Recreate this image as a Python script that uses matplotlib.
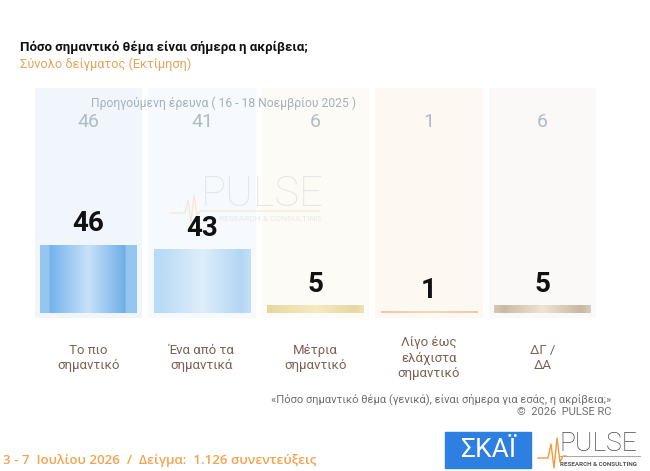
import numpy as np
import matplotlib
matplotlib.use("Agg")
import matplotlib.pyplot as plt
from matplotlib.colors import to_rgb
from matplotlib.patches import Rectangle
from matplotlib.lines import Line2D

plt.rcParams['font.family'] = ['Roboto', 'DejaVu Sans']

# data
categories = ['Το πιο\nσημαντικό', 'Ένα από τα\nσημαντικά', 'Μέτρια\nσημαντικό',
              'Λίγο έως\nελάχιστα\nσημαντικό', 'ΔΓ /\nΔΑ']
current = [46, 43, 5, 1, 5]
previous = [46, 41, 6, 1, 6]

col_bg = ['#F1F6FD', '#F6F9FD', '#FDFBF6', '#FDF8F2', '#FAF9F7']
bar_stops = [
    [(0, '#95C6F0'), (0.09, '#95C6F0'), (0.1, '#74B3EA'), (0.5, '#C8E1F9'), (0.88, '#6EAFE8'), (0.89, '#95C6F0'), (1, '#95C6F0')],
    [(0, '#B9DAF6'), (0.1, '#BCDCF6'), (0.5, '#DEEEFB'), (0.9, '#B3D6F4'), (1, '#C4E0F7')],
    [(0, '#E6D6A2'), (0.1, '#EADBA6'), (0.5, '#F6EAC0'), (0.9, '#E6D7A4'), (1, '#EEE2B8')],
    [(0, '#F1C8A4'), (0.5, '#F6D8BC'), (1, '#F1C8A4')],
    [(0, '#D6C9B6'), (0.1, '#C9BAA3'), (0.5, '#EFE4D2'), (0.9, '#C7B8A1'), (1, '#D8CCBA')],
]

fig = plt.figure(figsize=(6.5, 4.71), dpi=100)
ax = fig.add_axes([31.75 / 650, 1 - 318 / 471, 567.5 / 650, 230 / 471])
k = 1.478  # px per unit
ylo, yhi = -5 / k, 225 / k
x = np.arange(len(categories))

# background columns
ax.bar(x, yhi - ylo, bottom=ylo, width=0.943, color=col_bg, zorder=0)

# watermark
fig.text(262 / 650, 1 - 195 / 471, 'PULSE', fontsize=30, color='#E6E6E6',
         fontweight='light', ha='center', va='center', zorder=1)
fig.text(270 / 650, 1 - 219 / 471, 'RESEARCH & CONSULTING', fontsize=6,
         color='#E8E8E8', ha='center', va='center', zorder=1)
wx = np.array([170, 185, 188, 191, 194, 197, 200, 320]) / 650
wy = 1 - np.array([213, 213, 200, 222, 195, 215, 211, 211]) / 471
fig.add_artist(Line2D(wx, wy, color='#F5E6CF', lw=0.8, zorder=1))

# bars with horizontal gradient
w = 0.846
bars = ax.bar(x, current, width=w, color='none', zorder=2)
n = 200
pos = np.linspace(0, 1, n)
for b, stops in zip(bars, bar_stops):
    sp = [s[0] for s in stops]
    rgb = np.array([to_rgb(s[1]) for s in stops])
    img = np.stack([np.interp(pos, sp, rgb[:, c]) for c in range(3)], axis=-1)[None, :, :]
    x0 = b.get_x()
    ax.imshow(img, extent=(x0, x0 + b.get_width(), 0, b.get_height()),
              aspect='auto', zorder=2, interpolation='bilinear')

for xi, v in zip(x, current):
    ax.text(xi, v + 14.5, str(v), ha='center', va='center', fontsize=20,
            fontweight='bold', color='#111111', zorder=4)

for xi, v in zip(x, previous):
    ax.text(xi, 129.2, str(v), ha='center', va='center', fontsize=14,
            color='#AEBCC8', zorder=3)

tr = ax.get_xaxis_transform()
for xi, c in zip(x, categories):
    ax.text(xi, (318 - 358) / 230, c, transform=tr, ha='center', va='center',
            fontsize=9.5, color='#7D6254', linespacing=1.2)

ax.set_xlim(-0.5, 4.5)
ax.set_ylim(ylo, yhi)
ax.axis('off')

fig.text(224 / 650, 1 - 103 / 471, 'Προηγούμενη έρευνα ( 16 - 18 Νοεμβρίου 2025 )',
         ha='center', va='center', fontsize=8.7, color='#A3B1BE')

# titles
fig.text(20 / 650, 1 - 47 / 471, 'Πόσο σημαντικό θέμα είναι σήμερα η ακρίβεια;',
         ha='left', va='center', fontsize=9.5, fontweight='bold', color='#111111')
fig.text(20 / 650, 1 - 64 / 471, 'Σύνολο δείγματος (Εκτίμηση)',
         ha='left', va='center', fontsize=9.2, color='#E8A45A')

# footnotes
fig.text(611 / 650, 1 - 399 / 471,
         '«Πόσο σημαντικό θέμα (γενικά), είναι σήμερα για εσάς, η ακρίβεια;»',
         ha='right', va='center', fontsize=8, color='#6E6E6E')
fig.text(611 / 650, 1 - 412 / 471, '©  2026  PULSE RC',
         ha='right', va='center', fontsize=8, color='#6E6E6E')

fig.text(3 / 650, 1 - 460 / 471, '3 - 7  Ιουλίου 2026  /  Δείγμα:  1.126 συνεντεύξεις',
         ha='left', va='center', fontsize=9.5, fontweight='semibold', color='#F5A24C',
         family=['Open Sans', 'DejaVu Sans'])

# logos
fig.add_artist(Rectangle((445 / 650, 1 - 468 / 471), 86 / 650, 36 / 471,
                         transform=fig.transFigure, color='#2D7FE2'))
fig.text(488 / 650, 1 - 450 / 471, 'ΣΚΑΪ', ha='center', va='center',
         fontsize=19, color='white')
fig.text(598 / 650, 1 - 444 / 471, 'PULSE', ha='center', va='center',
         fontsize=19, color='#4A4A4A', fontweight='light')
fig.add_artist(Line2D(np.array([560, 640]) / 650, 1 - np.array([456, 456]) / 471,
                      color='#999999', lw=0.6))
fig.text(598 / 650, 1 - 464 / 471, 'RESEARCH & CONSULTING', ha='center', va='center',
         fontsize=4.5, color='#555555', fontweight='bold')
lx = np.array([538, 548, 551, 554, 557, 560, 563, 566]) / 650
ly = 1 - np.array([458, 458, 444, 468, 438, 462, 456, 456]) / 471
fig.add_artist(Line2D(lx, ly, color='#F39A3C', lw=1.0))

fig.savefig('out.png', dpi=100, facecolor='white')
